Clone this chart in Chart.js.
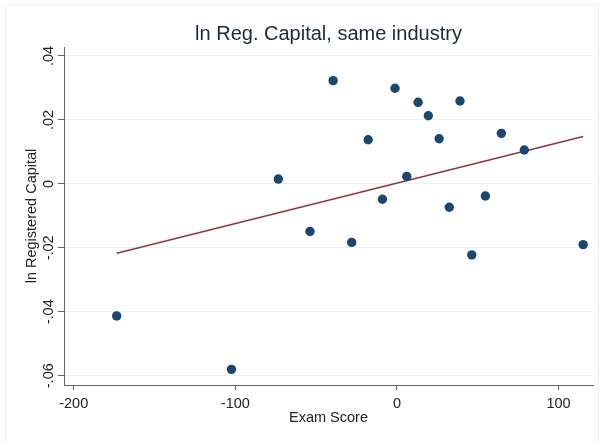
<!DOCTYPE html>
<html>
<head>
<meta charset="utf-8">
<script src="https://cdn.jsdelivr.net/npm/chart.js@4.4.1/dist/chart.umd.min.js"></script>
<style>
  body { margin: 0; background: #fff; }
  #wrap { position: relative; width: 600px; height: 443px; overflow: hidden; }
  #frame {
    position: absolute; left: 5px; top: 4px; width: 592px; height: 470px;
    border: 1px solid #eaf0f4; pointer-events: none;
  }
  canvas { position: absolute; left: 0; top: 0; }
</style>
</head>
<body>
<div id="wrap">
  <canvas id="scatterChart" width="600" height="443"></canvas>
  <div id="frame"></div>
</div>
<script>
  // points
  let examScore = [
    -173.4, -102.4, -73.4, -53.8, -39.5, -28.0, -17.8, -9.0, -1.2, 6.1,
    13.1, 19.4, 26.1, 32.4, 39.0, 46.3, 54.7, 64.6, 78.8, 115.2
  ];
  let lnRegCapital = [
    -0.0413, -0.0580, 0.0015, -0.0149, 0.0323, -0.0183, 0.0138, -0.0048, 0.0299, 0.0023,
    0.0255, 0.0213, 0.0141, -0.0073, 0.0259, -0.0222, -0.0038, 0.0158, 0.0106, -0.0190
  ];

  // fitted line endpoints
  let fitX = [-173.4, 115.2];
  let fitY = [-0.0217, 0.0148];

  let xTicks = [-200, -100, 0, 100];
  let yTicks = [-0.06, -0.04, -0.02, 0, 0.02, 0.04];

  let fontFamily = "'Liberation Sans', Arial, sans-serif";

  function fmtY(v) {
    let r = Math.round(v * 100) / 100;
    if (r === 0) return "0";
    return r.toString().replace("0.", ".");
  }

  let points = examScore.map((x, i) => ({ x: x, y: lnRegCapital[i] }));
  let fitLine = fitX.map((x, i) => ({ x: x, y: fitY[i] }));

  let ctx = document.getElementById("scatterChart").getContext("2d");

  new Chart(ctx, {
    type: "scatter",
    data: {
      datasets: [
        {
          data: points,
          backgroundColor: "#1a476f",
          borderColor: "#1a476f",
          borderWidth: 0,
          pointRadius: 4.7,
          order: 1,
        },
        {
          type: "line",
          data: fitLine,
          borderColor: "#90353b",
          borderWidth: 1.4,
          pointRadius: 0,
          fill: false,
          order: 2,
        },
      ],
    },
    options: {
      responsive: false,
      animation: false,
      devicePixelRatio: 1,
      layout: { padding: { left: 0, right: 7, top: 0, bottom: 0 } },
      plugins: {
        legend: { display: false },
        tooltip: { enabled: false },
        title: {
          display: true,
          text: "ln Reg. Capital, same industry",
          fullSize: false,
          color: "#1c2a3a",
          font: { family: fontFamily, size: 20, weight: "normal" },
          padding: { top: 22, bottom: 1 },
        },
      },
      scales: {
        x: {
          type: "linear",
          min: -206,
          max: 121.3,
          afterFit: (scale) => { scale.height = 58; },
          afterBuildTicks: (scale) => { scale.ticks = xTicks.map((v) => ({ value: v })); },
          ticks: {
            color: "#222",
            padding: 5,
            font: { family: fontFamily, size: 14.5 },
            maxRotation: 0,
          },
          grid: {
            drawOnChartArea: false,
            tickLength: 5,
            tickColor: "#666",
          },
          border: { color: "#666", width: 1 },
          title: {
            display: true,
            text: "Exam Score",
            color: "#222",
            font: { family: fontFamily, size: 14.5 },
            padding: { top: 0, bottom: 16 },
          },
        },
        y: {
          type: "linear",
          min: -0.0629,
          max: 0.0428,
          afterFit: (scale) => { scale.width = 64; },
          afterBuildTicks: (scale) => { scale.ticks = yTicks.map((v) => ({ value: v })); },
          ticks: {
            color: "#222",
            padding: -3,
            minRotation: 90,
            maxRotation: 90,
            crossAlign: "center",
            font: { family: fontFamily, size: 14.5 },
            callback: (v) => fmtY(v),
          },
          grid: {
            color: "#e9f1f2",
            lineWidth: 1,
            tickLength: 6,
            tickColor: "#666",
          },
          border: { color: "#666", width: 1 },
          title: {
            display: true,
            text: "ln Registered Capital",
            color: "#222",
            font: { family: fontFamily, size: 14.5 },
            padding: { top: 23, bottom: 0 },
          },
        },
      },
    },
  });
</script>
</body>
</html>
